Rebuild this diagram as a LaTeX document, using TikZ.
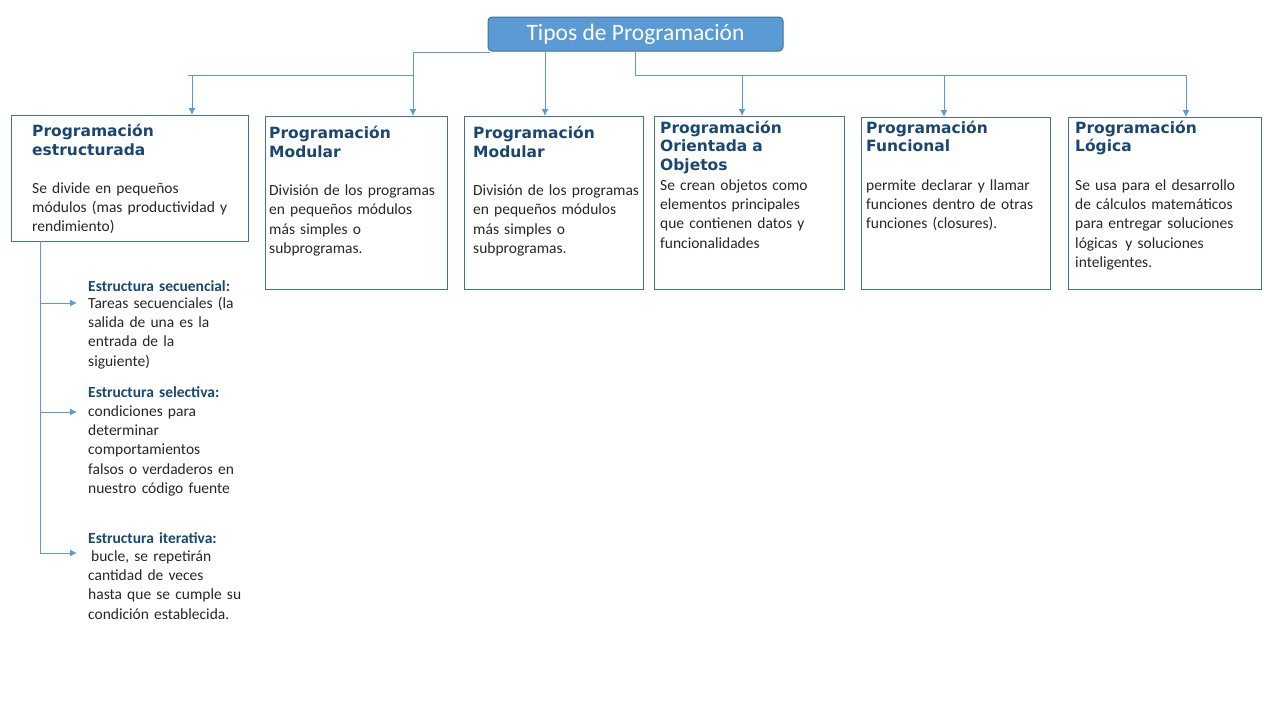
\documentclass[tikz,border=0pt]{standalone}
\usepackage{fontspec}
\setmainfont{Carlito}
\newfontfamily\headfont{DejaVu Sans}
\usetikzlibrary{arrows.meta,positioning}
\definecolor{titleFill}{HTML}{5B9BD5}
\definecolor{titleDraw}{HTML}{41719C}
\definecolor{frameColor}{HTML}{41719C}
\definecolor{linkColor}{HTML}{5B9BD5}
\definecolor{headColor}{HTML}{1A4672}
\definecolor{bodyColor}{HTML}{262626}
\tikzset{
  frame/.style={draw=frameColor,line width=1pt,inner sep=0pt,anchor=north west},
  head/.style={anchor=base west,inner sep=0pt,text width=200pt,align=left,
    text=headColor,font=\headfont\bfseries\fontsize{15.5}{18.5}\selectfont},
  body/.style={anchor=base west,inner sep=0pt,text width=210pt,align=left,
    text=bodyColor,font=\fontsize{15.5}{19.4}\selectfont},
  subhead/.style={anchor=base west,inner sep=0pt,text width=200pt,align=left,
    text=headColor,font=\bfseries\fontsize{15.5}{19.4}\selectfont},
  link/.style={draw=linkColor,line width=1pt},
  arr/.style={link,-{Latex[length=7pt,width=7pt]}}
}
\begin{document}
\begin{tikzpicture}[x=1pt,y=-1pt]
  \useasboundingbox (0,0) rectangle (1280,720);

  % title
  \node[fill=titleFill,draw=titleDraw,line width=1pt,rounded corners=4pt,
    minimum width=295,minimum height=34,text=white,
    font=\fontsize{23.5}{28}\selectfont] (top) at (635.5,34) {Tipos de Programación};

  % frames
  \node[frame,minimum width=237,minimum height=126] (f1) at (11,115) {};
  \node[frame,minimum width=182,minimum height=173] (f2) at (265,116) {};
  \node[frame,minimum width=179,minimum height=173] (f3) at (464,116) {};
  \node[frame,minimum width=190,minimum height=173] (f4) at (654,116) {};
  \node[frame,minimum width=189,minimum height=172] (f5) at (861,117) {};
  \node[frame,minimum width=193,minimum height=172] (f6) at (1068,117) {};

  % texts in the frames
  \node[head] (h1) at (32,136.5) {Programación\\estructurada};
  \node[body] (d1) at (32,193) {Se divide en pequeños\\módulos (mas productividad y\\rendimiento)};

  \node[head] (h2) at (269,138.5) {Programación\\Modular};
  \node[body] (d2) at (269,195.5) {División de los programas\\en pequeños módulos\\más simples o\\subprogramas.};

  \node[head] (h3) at (473,138.5) {Programación\\Modular};
  \node[body] (d3) at (473,195.5) {División de los programas\\en pequeños módulos\\más simples o\\subprogramas.};

  \node[head] (h4) at (660,133) {Programación\\Orientada a\\Objetos};
  \node[body] (d4) at (660,190) {Se crean objetos como\\elementos principales\\que contienen datos y\\funcionalidades};

  \node[head] (h5) at (866,133) {Programación\\Funcional};
  \node[body] (d5) at (866,190) {permite declarar y llamar\\funciones dentro de otras\\funciones (closures).};

  \node[head] (h6) at (1075,133) {Programación\\Lógica};
  \node[body] (d6) at (1075,190) {Se usa para el desarrollo\\de cálculos matemáticos\\para entregar soluciones\\lógicas\, y soluciones\\inteligentes.};

  % estructuras
  \node[subhead] (s1) at (88,291) {Estructura secuencial:};
  \node[body] (q1) at (88,308) {Tareas secuenciales (la\\salida de una es la\\entrada de la\\siguiente)};
  \node[subhead] (s2) at (88,397) {Estructura selectiva:};
  \node[body] (q2) at (88,416) {condiciones para\\determinar\\comportamientos\\falsos o verdaderos en\\nuestro código fuente};
  \node[subhead] (s3) at (88,543) {Estructura iterativa:};
  \node[body] (q3) at (88,561) {\hspace*{3pt}bucle, se repetirán\\cantidad de veces\\hasta que se cumple su\\condición establecida.};

  % connectors from the title
  \coordinate (k0) at (188,75);
  \coordinate (k1) at (192,75);
  \coordinate (k2) at (413,75);
  \coordinate (k3) at (545,75);
  \coordinate (k4) at (742,75);
  \coordinate (k5) at (944,75);
  \coordinate (k6) at (1186,75);

  \draw[arr] ([xshift=2pt,yshift=-1pt]top.south west) -| (k2 |- f2.north);
  \draw[link] (k0) -- (k2);
  \draw[arr] (k1) -- (k1 |- f1.north);
  \draw[arr] (k3 |- top.south) -- (k3 |- f3.north);
  \draw[link] (top.south) |- (k6);
  \draw[arr] (k4) -- (k4 |- f4.north);
  \draw[arr] (k5) -- (k5 |- f5.north);
  \draw[arr] (k6) -- (k6 |- f6.north);

  % tree under the first frame
  \coordinate (t0) at (40,241);
  \coordinate (a1) at (77,303);
  \coordinate (a2) at (77,412);
  \coordinate (a3) at (77,553);
  \draw[link] (t0) -- (t0 |- a3);
  \draw[arr] (t0 |- a1) -- (a1);
  \draw[arr] (t0 |- a2) -- (a2);
  \draw[arr] (t0 |- a3) -- (a3);

\end{tikzpicture}
\end{document}
